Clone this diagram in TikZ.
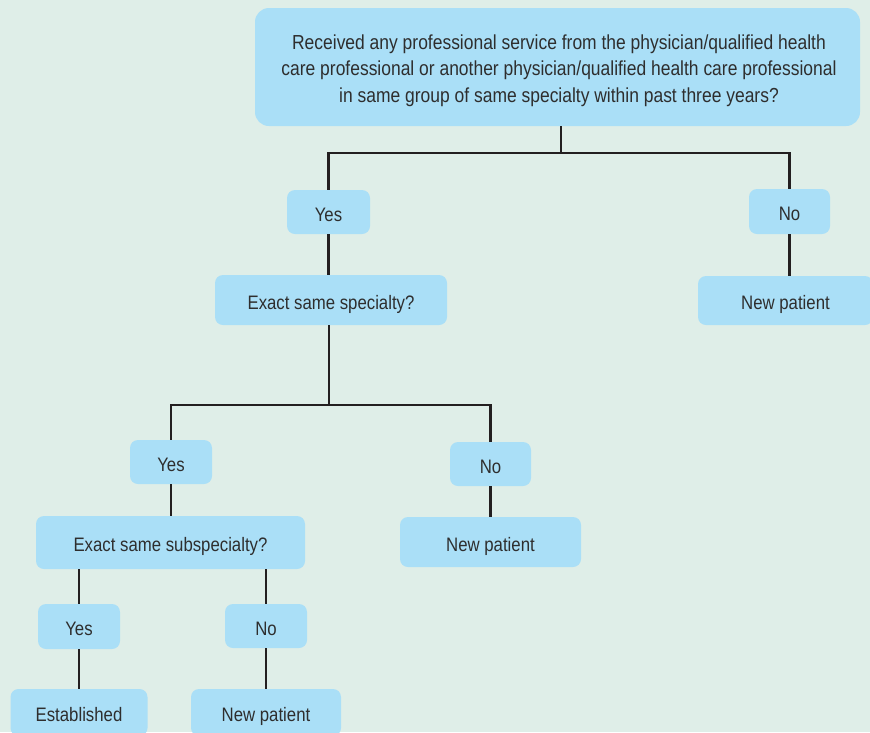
\documentclass[tikz,border=0pt]{standalone}
\usepackage{fontspec}
\setmainfont{Liberation Sans}[FakeStretch=0.86]
\definecolor{bgc}{HTML}{DFEEE8}
\definecolor{boxc}{HTML}{AADFF7}
\definecolor{txtc}{HTML}{2E2E2E}
\definecolor{linec}{HTML}{231F20}
\tikzset{
  flowbox/.style={fill=boxc, draw=none, rounded corners=8pt, inner sep=0pt, text=txtc,
    font=\fontsize{19.5}{27}\selectfont, align=center, text height=18pt, text depth=0pt},
  bigbox/.style={fill=boxc, draw=none, rounded corners=14pt, inner sep=0pt},
  bigtext/.style={inner sep=0pt, text=txtc, font=\fontsize{20.3}{26.5}\selectfont, align=center},
  conn/.style={draw=linec, line width=2.8pt}
}
\begin{document}
\begin{tikzpicture}[x=1pt,y=-1pt]
\path[clip] (0,0) rectangle (870,732);
\fill[bgc] (0,0) rectangle (870,732);
% nodes
\node[bigbox, minimum width=605pt, minimum height=118pt] (top) at (557.5,67) {};
\node[bigtext] (toptext) at (559,70.5)
  {Received any professional service from the physician/qualified health\\
   care professional or another physician/qualified health care professional\\
   in same group of same specialty within past three years?};
\node[flowbox, minimum width=83pt, minimum height=44pt] (yes1) at (328.5,212) {Yes};
\node[flowbox, minimum width=81pt, minimum height=45pt] (no1) at (789.5,211.5) {No};
\node[flowbox, minimum width=232pt, minimum height=50pt] (spec) at (331,300) {Exact same specialty?};
\node[flowbox, minimum width=175pt, minimum height=49pt] (np1) at (785.5,300.5) {New patient};
\node[flowbox, minimum width=82pt, minimum height=44pt] (yes2) at (171,462) {Yes};
\node[flowbox, minimum width=81pt, minimum height=44pt] (no2) at (490.5,464) {No};
\node[flowbox, minimum width=269pt, minimum height=53pt] (subspec) at (170.5,542.5) {Exact same subspecialty?};
\node[flowbox, minimum width=181pt, minimum height=50pt] (np2) at (490.5,542) {New patient};
\node[flowbox, minimum width=82pt, minimum height=45pt] (yes3) at (79,626.5) {Yes};
\node[flowbox, minimum width=82pt, minimum height=44pt] (no3) at (266,626) {No};
\node[flowbox, minimum width=137pt, minimum height=47pt] (est) at (79,712.5) {Established};
\node[flowbox, minimum width=150pt, minimum height=47pt] (np3) at (266,712.5) {New patient};
% connectors
\coordinate (j1) at (561,153);
\coordinate (j2) at (329,405);
\draw[conn] (j1 |- top.south) -- (j1);
\draw[conn] (yes1.north) |- (j1) -| (no1.north);
\draw[conn] (yes1.south) -- (yes1.south |- spec.north);
\draw[conn] (no1.south) -- (no1.south |- np1.north);
\draw[conn] (j2 |- spec.south) -- (j2);
\draw[conn] (yes2.north) |- (j2) -| (no2.north);
\draw[conn] (yes2.south) -- (yes2.south |- subspec.north);
\draw[conn] (no2.south) -- (no2.south |- np2.north);
\draw[conn] (yes3.north |- subspec.south) -- (yes3.north);
\draw[conn] (no3.north |- subspec.south) -- (no3.north);
\draw[conn] (yes3.south) -- (est.north);
\draw[conn] (no3.south) -- (np3.north);
\end{tikzpicture}
\end{document}
